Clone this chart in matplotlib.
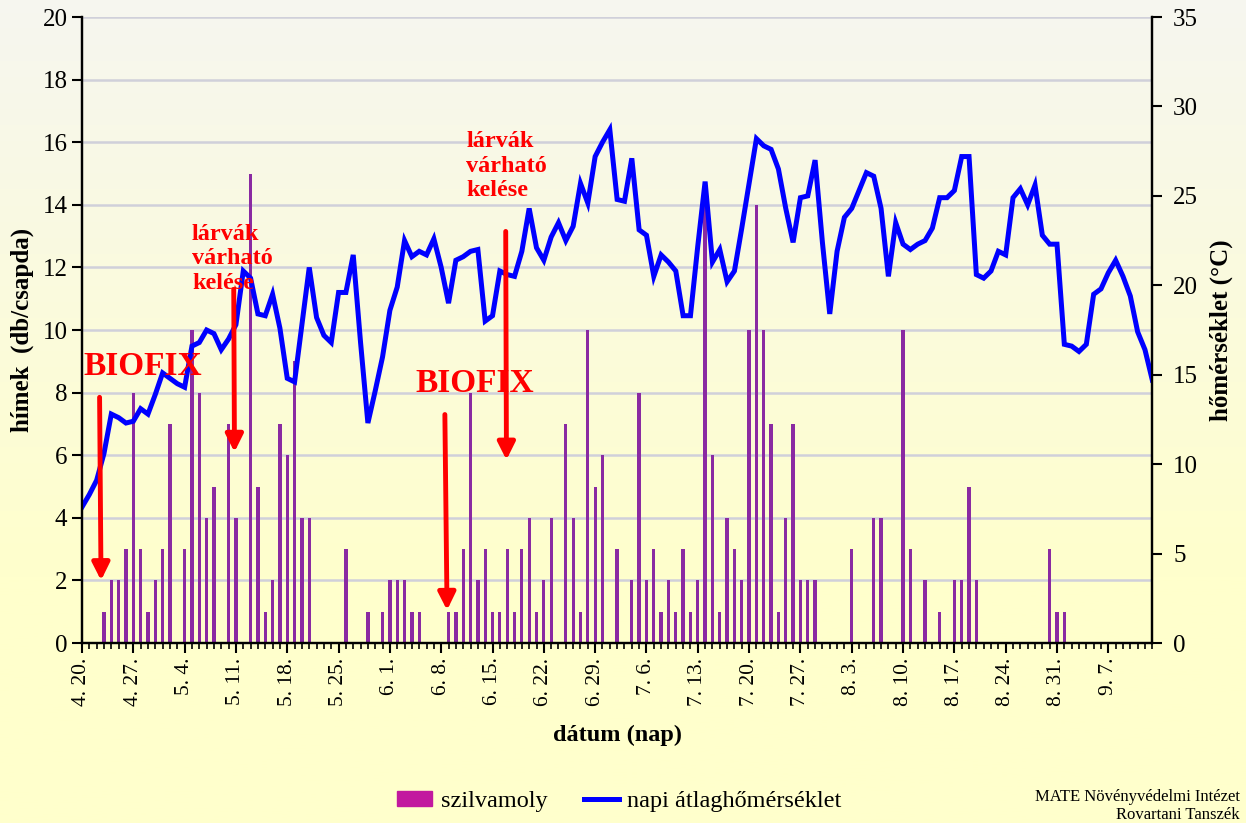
import numpy as np
import matplotlib.pyplot as plt
from matplotlib.patches import Patch
from matplotlib.lines import Line2D

plt.rcParams['font.family'] = ['Liberation Serif', 'DejaVu Serif']

# daily moth catches (males / trap), one value per day from 4.20 to 9.13
moths = [0, 0, 0, 1, 2, 2, 3, 8, 3, 1, 2, 3, 7, 0, 3, 10, 8, 4, 5, 0,
         7, 4, 0, 15, 5, 1, 2, 7, 6, 9, 4, 4, 0, 0, 0, 0, 3, 0, 0, 1,
         0, 1, 2, 2, 2, 1, 1, 0, 0, 0, 1, 1, 3, 8, 2, 3, 1, 1, 3, 1,
         3, 4, 1, 2, 4, 0, 7, 4, 1, 10, 5, 6, 0, 3, 0, 2, 8, 2, 3, 1,
         2, 1, 3, 1, 2, 14, 6, 1, 4, 3, 2, 10, 14, 10, 7, 1, 4, 7, 2, 2,
         2, 0, 0, 0, 0, 3, 0, 0, 4, 4, 0, 0, 10, 3, 0, 2, 0, 1, 0, 2,
         2, 5, 2, 0, 0, 0, 0, 0, 0, 0, 0, 0, 3, 1, 1, 0, 0, 0, 0, 0,
         0, 0, 0, 0, 0, 0, 0]

# daily mean temperature (°C)
temp = [7.6, 8.3, 9.1, 10.6, 12.8, 12.6, 12.3, 12.4, 13.1, 12.8,
        13.9, 15.1, 14.8, 14.5, 14.3, 16.6, 16.8, 17.5, 17.3, 16.4,
        17.0, 17.8, 20.8, 20.4, 18.4, 18.3, 19.5, 17.6, 14.8, 14.6,
        17.8, 21.0, 18.2, 17.2, 16.8, 19.6, 19.6, 21.7, 16.8, 12.3,
        14.1, 16.0, 18.6, 19.9, 22.5, 21.6, 21.9, 21.7, 22.6, 21.0,
        19.0, 21.4, 21.6, 21.9, 22.0, 18.0, 18.3, 20.8, 20.6, 20.5,
        21.9, 24.3, 22.1, 21.4, 22.7, 23.5, 22.5, 23.3, 25.7, 24.6,
        27.2, 28.0, 28.7, 24.8, 24.7, 27.1, 23.1, 22.8, 20.5, 21.7,
        21.3, 20.8, 18.3, 18.3, 22.2, 25.8, 21.3, 22.0, 20.2, 20.8,
        23.2, 25.7, 28.2, 27.8, 27.6, 26.5, 24.3, 22.4, 24.9, 25.0,
        27.0, 22.4, 18.4, 21.9, 23.8, 24.3, 25.3, 26.3, 26.1, 24.3,
        20.5, 23.5, 22.3, 22.0, 22.3, 22.5, 23.2, 24.9, 24.9, 25.3,
        27.2, 27.2, 20.6, 20.4, 20.8, 21.9, 21.7, 24.9, 25.4, 24.5,
        25.6, 22.8, 22.3, 22.3, 16.7, 16.6, 16.3, 16.7, 19.5, 19.8,
        20.7, 21.4, 20.5, 19.4, 17.4, 16.4, 14.7]

week_labels = ['4. 20.', '4. 27.', '5. 4.', '5. 11.', '5. 18.', '5. 25.',
               '6. 1.', '6. 8.', '6. 15.', '6. 22.', '6. 29.', '7. 6.',
               '7. 13.', '7. 20.', '7. 27.', '8. 3.', '8. 10.', '8. 17.',
               '8. 24.', '8. 31.', '9. 7.']

days = np.arange(len(moths))

fig = plt.figure(figsize=(12.46, 8.23), dpi=100)

# background gradient over the whole figure
bg = fig.add_axes([0, 0, 1, 1], zorder=-10)
top = np.array([0.965, 0.965, 0.94])
bot = np.array([1.0, 1.0, 0.80])
t = np.clip(np.linspace(0, 1, 300) / 0.7, 0, 1)[:, None]
grad = top * (1 - t) + bot * t
bg.imshow(grad[:, None, :], aspect='auto', extent=[0, 1, 0, 1])
bg.axis('off')

ax1 = fig.add_axes([0.0658, 0.2187, 0.9248 - 0.0658, 0.9793 - 0.2187])
ax1.patch.set_alpha(0)
ax2 = ax1.twinx()
ax2.patch.set_alpha(0)

ax1.bar(days, moths, width=0.45, color='#8a2aa2', zorder=2)
ax1.set_ylim(0, 20)
ax1.set_yticks(range(0, 21, 2))
ax1.grid(axis='y', color='#d0d0da', lw=1.8)
ax1.set_axisbelow(True)
ax1.set_xlim(0, len(moths) - 1)
ax1.set_xticks(days[::7])
ax1.set_xticklabels(week_labels, rotation=90, fontsize=15.5)
ax1.set_xticks(days, minor=True)
ax1.tick_params(axis='x', which='major', length=7, width=1.5, direction='out')
ax1.tick_params(axis='x', which='minor', length=4, width=1.2, direction='out')
ax1.tick_params(axis='y', length=7, width=1.5, labelsize=18)
ax1.set_ylabel('hímek  (db/csapda)', fontsize=18, fontweight='bold', labelpad=6)
ax1.set_xlabel('dátum (nap)', fontsize=17.5, fontweight='bold', labelpad=14)

ax2.plot(days, temp, color='#0000ff', lw=3.6, solid_joinstyle='miter')
ax2.set_ylim(0, 35)
ax2.set_yticks(range(0, 36, 5))
ax2.tick_params(axis='y', length=7, width=1.5, labelsize=18, pad=8)
ax2.set_ylabel('hőmérséklet (°C)', fontsize=18, fontweight='bold', labelpad=8)

for ax in (ax1, ax2):
    for s in ax.spines.values():
        s.set_linewidth(1.6)
    ax.spines['top'].set_visible(False)

red = '#ff0000'
arrow = dict(arrowstyle='-|>', color=red, lw=3.5, mutation_scale=26, shrinkA=0, shrinkB=0)
# BIOFIX arrows
ax2.annotate('', xy=(2.6, 2.0), xytext=(2.4, 7.85), xycoords=ax1.transData,
             textcoords=ax1.transData, arrowprops=arrow)
ax2.annotate('', xy=(49.8, 1.05), xytext=(49.5, 7.3), xycoords=ax1.transData,
             textcoords=ax1.transData, arrowprops=arrow)
# larva arrows
ax2.annotate('', xy=(20.8, 6.1), xytext=(20.7, 11.3), xycoords=ax1.transData,
             textcoords=ax1.transData, arrowprops=arrow)
ax2.annotate('', xy=(57.9, 5.85), xytext=(57.8, 13.15), xycoords=ax1.transData,
             textcoords=ax1.transData, arrowprops=arrow)

ax2.text(0.2, 8.85, 'BIOFIX', transform=ax1.transData, color=red, fontsize=24,
         fontweight='bold', va='center', ha='left', zorder=5)
ax2.text(45.5, 8.3, 'BIOFIX', transform=ax1.transData, color=red, fontsize=24,
         fontweight='bold', va='center', ha='left', zorder=5)
ax2.text(15.0, 13.4, 'lárvák\nvárható\nkelése', transform=ax1.transData, color=red,
         fontsize=17.5, fontweight='bold', va='top', ha='left', linespacing=1.22, zorder=5)
ax2.text(52.4, 16.35, 'lárvák\nvárható\nkelése', transform=ax1.transData, color=red,
         fontsize=17.5, fontweight='bold', va='top', ha='left', linespacing=1.22, zorder=5)

handles = [Patch(color='#c2199f'), Line2D([], [], color='#0000ff', lw=3.6)]
fig.legend(handles, ['szilvamoly', 'napi átlaghőmérséklet'], loc='center',
           bbox_to_anchor=(0.497, 0.026), ncol=2, frameon=False, fontsize=17.5,
           handlelength=1.45, handleheight=0.6, handletextpad=0.35, columnspacing=1.5)

fig.text(0.995, 0.0, 'MATE Növényvédelmi Intézet\nRovartani Tanszék', ha='right',
         va='bottom', fontsize=12, linespacing=1.2)

fig.savefig('out.png', dpi=100)
